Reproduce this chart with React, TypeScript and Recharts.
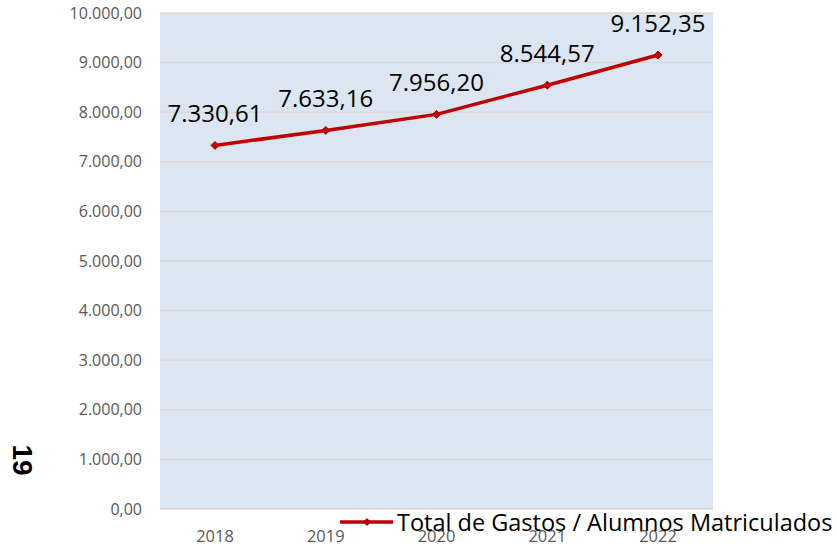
import React from "react";
import { LineChart, Line, XAxis, YAxis, CartesianGrid, LabelList } from "recharts";

const years = ["2018", "2019", "2020", "2021", "2022"];
const gastoPorAlumno = [7330.61, 7633.16, 7956.2, 8544.57, 9152.35];
const yTicks = [0, 1000, 2000, 3000, 4000, 5000, 6000, 7000, 8000, 9000, 10000];
const seriesName = "Total de Gastos / Alumnos Matriculados";
const pageLabel = "19";

const data = years.map((y, i) => ({ year: y, value: gastoPorAlumno[i] }));

const FONT = "'Open Sans', sans-serif";
const RED = "#c00000";

function fmt(v: number): string {
  const [intPart, dec] = v.toFixed(2).split(".");
  const withDots = intPart.replace(/\B(?=(\d{3})+(?!\d))/g, ".");
  return `${withDots},${dec}`;
}

const Diamond = (props: any) => {
  const { cx, cy } = props;
  if (cx == null || cy == null) return null;
  const r = 4;
  return (
    <path
      d={`M${cx},${cy - r} L${cx + r},${cy} L${cx},${cy + r} L${cx - r},${cy} Z`}
      fill={RED}
      stroke={RED}
      strokeWidth={1}
    />
  );
};

export default function App() {
  return (
    <div style={{ position: "absolute", left: 0, top: 0, width: 837, height: 548, background: "#fff" }}>
      <LineChart
        width={837}
        height={548}
        data={data}
        margin={{ top: 13, right: 124, bottom: 0, left: 0 }}
      >
        <CartesianGrid vertical={false} stroke="#d9d9d9" strokeWidth={1.5} fill="#dce6f2" />
        <XAxis
          dataKey="year"
          axisLine={false}
          tickLine={false}
          tickSize={0}
          tickMargin={21}
          height={39}
          padding={{ left: 55, right: 55 }}
          tick={{ fill: "#595959", fontSize: 16.5, fontFamily: FONT }}
        />
        <YAxis
          domain={[0, 10000]}
          ticks={yTicks}
          interval={0}
          width={160}
          axisLine={false}
          tickLine={false}
          tickSize={0}
          tickMargin={18}
          tickFormatter={(v: number) => fmt(v)}
          tick={{ fill: "#595959", fontSize: 16, fontFamily: FONT }}
        />
        <Line
          type="linear"
          dataKey="value"
          name={seriesName}
          stroke={RED}
          strokeWidth={3.5}
          dot={<Diamond />}
          activeDot={false}
          isAnimationActive={false}
        >
          <LabelList
            dataKey="value"
            position="top"
            offset={23}
            formatter={(v: any) => fmt(Number(v))}
            style={{ fill: "#000", fontSize: 24, fontFamily: FONT }}
          />
        </Line>
      </LineChart>
      <div
        style={{
          position: "absolute",
          left: 340,
          top: 508,
          display: "flex",
          alignItems: "center",
          fontFamily: FONT,
          whiteSpace: "nowrap",
        }}
      >
        <svg width={57} height={28} style={{ display: "block" }}>
          <line x1={0} y1={14} x2={53} y2={14} stroke={RED} strokeWidth={3.5} />
          <path d="M27,10 L31,14 L27,18 L23,14 Z" fill={RED} />
        </svg>
        <span style={{ fontSize: 23.5, color: "#000", lineHeight: "28px" }}>{seriesName}</span>
      </div>
      <div
        style={{
          position: "absolute",
          left: 22,
          top: 460,
          transform: "translate(-50%, -50%) rotate(90deg)",
          fontFamily: "'Liberation Sans', Arial, sans-serif",
          fontWeight: "bold",
          fontSize: 28,
          color: "#000",
          lineHeight: 1,
        }}
      >
        {pageLabel}
      </div>
    </div>
  );
}
